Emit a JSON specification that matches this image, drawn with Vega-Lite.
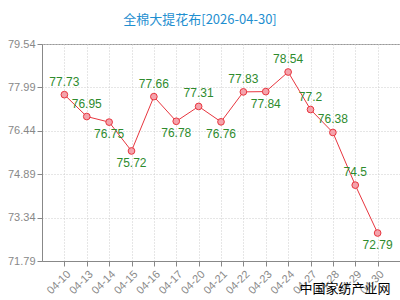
{
  "$schema": "https://vega.github.io/schema/vega-lite/v6.json",
  "width": 358,
  "height": 217,
  "autosize": {"type": "none"},
  "padding": {"left": 42, "top": 44, "right": 0, "bottom": 39},
  "background": "white",
  "title": {
    "text": "全棉大提花布[2026-04-30]",
    "color": "#1f8fd0",
    "fontSize": 13,
    "font": "Noto Sans CJK SC",
    "fontWeight": "normal",
    "anchor": "middle",
    "dx": -21,
    "offset": 11
  },
  "config": {
    "view": {"stroke": "#999999", "strokeWidth": 1},
    "axis": {
      "labelFont": "Liberation Sans",
      "labelFontSize": 11,
      "labelColor": "#888888",
      "domainColor": "#888888",
      "tickColor": "#888888",
      "gridColor": "#cccccc",
      "gridDash": [1, 2],
      "gridWidth": 1
    }
  },
  "data": {
    "values": [
      {"date": "04-10", "price": 77.73},
      {"date": "04-13", "price": 76.95},
      {"date": "04-14", "price": 76.75},
      {"date": "04-15", "price": 75.72},
      {"date": "04-16", "price": 77.66},
      {"date": "04-17", "price": 76.78},
      {"date": "04-20", "price": 77.31},
      {"date": "04-21", "price": 76.76},
      {"date": "04-22", "price": 77.83},
      {"date": "04-23", "price": 77.84},
      {"date": "04-24", "price": 78.54},
      {"date": "04-27", "price": 77.2},
      {"date": "04-28", "price": 76.38},
      {"date": "04-29", "price": 74.5},
      {"date": "04-30", "price": 72.79}
    ]
  },
  "encoding": {
    "x": {
      "field": "date",
      "type": "ordinal",
      "scale": {"type": "point", "padding": 1},
      "axis": {
        "labelAngle": -45,
        "grid": true,
        "tickSize": 5,
        "labelPadding": 2,
        "title": "中国家纺产业网",
        "titleFont": "Noto Sans CJK SC",
        "titleFontSize": 13,
        "titleFontWeight": "normal",
        "titleColor": "#000000",
        "titleAnchor": "end",
        "titleAlign": "right",
        "titleBaseline": "middle",
        "titleX": 348,
        "titleY": 27
      }
    },
    "y": {
      "field": "price",
      "type": "quantitative",
      "scale": {"domain": [71.79, 79.54], "nice": false, "zero": false},
      "axis": {
        "values": [71.79, 73.34, 74.89, 76.44, 77.99, 79.54],
        "format": ".2f",
        "title": null,
        "grid": true,
        "tickSize": 5
      }
    }
  },
  "layer": [
    {
      "mark": {"type": "line", "color": "#e8363f", "strokeWidth": 1}
    },
    {
      "mark": {"type": "point", "filled": true, "fill": "#f4a3ac", "stroke": "#e8363f", "strokeWidth": 1, "size": 45, "opacity": 1}
    },
    {
      "transform": [{"filter": {"not": {"field": "date", "oneOf": ["04-14", "04-15", "04-17", "04-21", "04-23", "04-30"]}}}],
      "mark": {"type": "text", "dy": -13, "color": "#2e8b2e", "font": "Liberation Sans", "fontSize": 12, "baseline": "middle"},
      "encoding": {"text": {"field": "price", "type": "quantitative"}}
    },
    {
      "transform": [{"filter": {"field": "date", "oneOf": ["04-14", "04-15", "04-17", "04-21", "04-23", "04-30"]}}],
      "mark": {"type": "text", "dy": 12, "color": "#2e8b2e", "font": "Liberation Sans", "fontSize": 12, "baseline": "middle"},
      "encoding": {"text": {"field": "price", "type": "quantitative"}}
    }
  ]
}
